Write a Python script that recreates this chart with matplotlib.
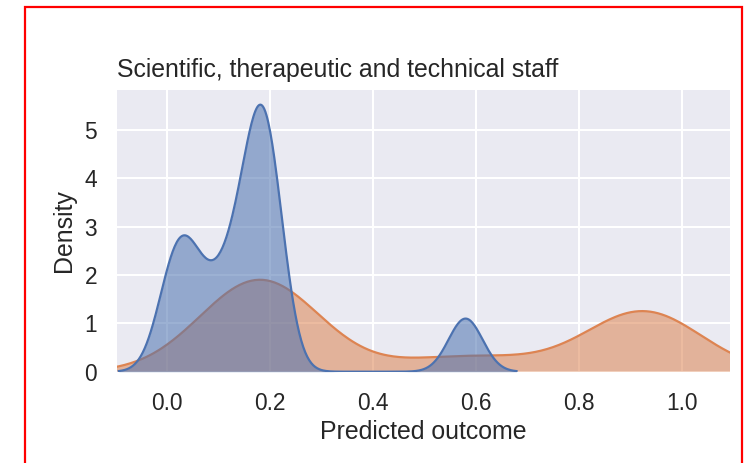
import numpy as np
import matplotlib
matplotlib.use("Agg")
import matplotlib.pyplot as plt
from matplotlib.patches import Rectangle

# ---- data: predicted outcomes for the two groups
blue_samples = [0.005, 0.028, 0.056, 0.105, 0.142, 0.165, 0.177, 0.19, 0.20, 0.205, 0.58]
orange_samples = [0.10, 0.12, 0.14, 0.16, 0.17, 0.18, 0.19, 0.20, 0.22, 0.24, 0.26,
                  0.52, 0.65,
                  0.86, 0.89, 0.91, 0.93, 0.94, 0.96, 0.98]
blue_bw = 0.033
orange_bw = 0.105
x_ticks = [0.0, 0.2, 0.4, 0.6, 0.8, 1.0]
y_ticks = [0, 1, 2, 3, 4, 5]
title = "Scientific, therapeutic and technical staff"
x_label = "Predicted outcome"
y_label = "Density"

BLUE = "#4C72B0"
ORANGE = "#DD8452"


def kde_curve(samples, bw, cut=3, n=400):
    s = np.asarray(samples, dtype=float)
    grid = np.linspace(s.min() - cut * bw, s.max() + cut * bw, n)
    z = (grid[:, None] - s[None, :]) / bw
    dens = np.exp(-0.5 * z ** 2).sum(axis=1) / (len(s) * bw * np.sqrt(2 * np.pi))
    return grid, dens


plt.rcParams["font.family"] = ["Liberation Sans", "DejaVu Sans"]

fig = plt.figure(figsize=(7.55, 4.63), dpi=100)
fig.patch.set_facecolor("white")
ax = fig.add_axes([117.3 / 755, (463 - 371.7) / 463, (730 - 117.3) / 755, (371.7 - 90) / 463])
ax.set_facecolor("#EAEAF2")
for sp in ax.spines.values():
    sp.set_visible(False)
ax.grid(True, color="white", linewidth=1.5)
ax.set_axisbelow(True)

for samples, bw, col, z in [(orange_samples, orange_bw, ORANGE, 2), (blue_samples, blue_bw, BLUE, 3)]:
    gx, gy = kde_curve(samples, bw)
    ax.fill_between(gx, 0, gy, color=col, alpha=0.55, linewidth=0, zorder=z)
    ax.plot(gx, gy, color=col, linewidth=1.6, zorder=z)

ax.set_xlim(-0.097, 1.094)
ax.set_ylim(0, 5.83)
ax.set_xticks(x_ticks)
ax.set_yticks(y_ticks)
ax.set_xticklabels([f"{v:.1f}" for v in x_ticks])
ax.tick_params(axis="both", length=0, pad=14.5, labelsize=16.4, labelcolor="#262626")
ax.set_xlabel(x_label, fontsize=17.9, color="#262626", labelpad=4)
ax.set_ylabel(y_label, fontsize=17.9, color="#262626", labelpad=6)
ax.set_title(title, loc="left", fontsize=17.9, color="#262626", pad=9)

fig.add_artist(Rectangle((25 / 755, -0.05), (742 - 25) / 755, 1.05 - 7 / 463,
                         transform=fig.transFigure, fill=False, edgecolor="red",
                         linewidth=1.6, clip_on=False))

fig.savefig("out.png", dpi=100)
